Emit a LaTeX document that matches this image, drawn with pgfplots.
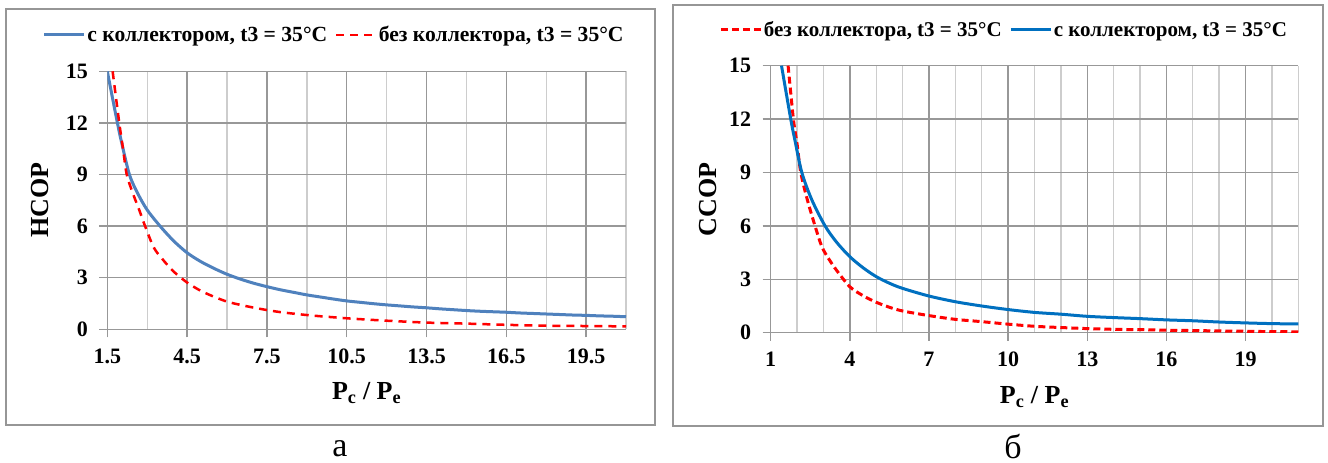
\documentclass[border=0pt]{standalone}
\usepackage{fontspec}
\setmainfont{Liberation Serif}
\usepackage{pgfplots}
\pgfplotsset{compat=1.18}

\definecolor{blueA}{RGB}{79,129,189}
\definecolor{blueB}{RGB}{0,112,192}
\definecolor{redD}{RGB}{255,0,0}
\definecolor{gridmaj}{RGB}{152,152,152}
\definecolor{gridmin}{RGB}{205,205,205}
\definecolor{framec}{RGB}{150,150,150}

\pgfplotsset{
  panel/.style={
    scale only axis, anchor=south west,
    axis lines=left, axis line style={-, draw=gridmaj, line width=1.4pt},
    ymin=0, ymax=15, ytick={0,3,6,9,12,15},
    grid=both,
    major grid style={draw=gridmaj, line width=1.4pt},
    minor grid style={draw=gridmin, line width=1.4pt},
    tick align=outside, major tick length=8pt, minor tick length=0pt,
    tick style={draw=gridmaj, line width=1.4pt},
    /pgf/number format/assume math mode=true,
    tick label style={font=\fontsize{22}{24}\selectfont\bfseries},
    xticklabel style={yshift=-8pt},
    yticklabel style={xshift=-8pt},
    label style={font=\fontsize{26}{28}\selectfont\bfseries},
    legend columns=-1,
    legend style={draw=none, fill=none, anchor=center,
      font=\fontsize{21}{23}\selectfont\bfseries,
      /tikz/every even column/.append style={column sep=6pt},
      nodes={inner sep=1.5pt}},
    legend image code/.code={\draw[##1] (0pt,0pt) -- (40pt,0pt);},
  }
}

\begin{document}
\begin{tikzpicture}
\path[use as bounding box] (0,0) rectangle (1328pt,463pt);
\fill[white] (0,0) rectangle (1328pt,463pt);

% chart frames
\draw[framec, line width=1.6pt] (6pt,38pt) rectangle (655pt,454pt);
\draw[framec, line width=1.6pt] (673pt,37pt) rectangle (1323pt,458pt);

% (а) heating COP
\begin{axis}[panel,
  at={(107.3pt,133.7pt)}, width=518.7pt, height=258pt,
  xmin=1.5, xmax=21,
  xtick={1.5,4.5,7.5,10.5,13.5,16.5,19.5},
  xticklabels={1.5,4.5,7.5,10.5,13.5,16.5,19.5},
  minor xtick={3,6,9,12,15,18,21},
  ylabel={HCOP},
  xlabel={P\textsubscript{c} / P\textsubscript{e}},
  ylabel style={at={(axis description cs:-0.130,0.5)}, anchor=center},
  xlabel style={at={(axis description cs:0.5,-0.247)}, anchor=center},
  legend style={at={(axis description cs:0.437,1.141)},
    font=\fontsize{21.6}{23}\selectfont\bfseries},
]
\addplot[blueA, line width=3pt, smooth] coordinates {
 (1.5,15.0) (1.88,12.0) (2.04,10.85) (2.33,9.0) (2.64,7.91) (3.0,6.94)
 (3.5,5.97) (4.0,5.13) (4.5,4.45) (5.0,3.95) (5.5,3.55) (6.0,3.2)
 (6.5,2.92) (7.0,2.68) (7.5,2.48) (8.0,2.30) (8.5,2.15) (9.0,2.0)
 (9.5,1.88) (10.0,1.76) (10.5,1.65) (11.0,1.57) (11.5,1.49) (12.0,1.42)
 (12.5,1.36) (13.0,1.30) (13.5,1.25) (14.0,1.19) (14.5,1.14) (15.0,1.09)
 (15.5,1.05) (16.0,1.02) (16.5,0.99) (17.0,0.95) (17.5,0.92) (18.0,0.89)
 (18.5,0.86) (19.0,0.83) (19.5,0.81) (20.0,0.78) (20.5,0.76) (21.0,0.73)
};
\addlegendentry{с коллектором, t3 = 35°C}
\addplot[redD, line width=2.5pt, dash pattern=on 8pt off 6pt, smooth] coordinates {
 (1.7,15.0) (1.95,12.0) (2.1,10.4) (2.23,9.0) (2.45,7.95) (2.70,6.94)
 (2.92,6.0) (3.25,4.75) (3.6,4.03) (4.0,3.35) (4.5,2.72) (5.0,2.25)
 (5.5,1.9) (6.0,1.61) (6.5,1.42) (7.0,1.26) (7.5,1.12) (8.0,1.0)
 (8.5,0.91) (9.0,0.83) (9.5,0.76) (10.0,0.70) (10.5,0.64) (11.0,0.59)
 (12.0,0.50) (13.5,0.39) (15.0,0.33) (16.5,0.26) (18.0,0.21)
 (19.5,0.19) (21.0,0.17)
};
\addlegendentry{без коллектора, t3 = 35°C}
\end{axis}

% (б) cooling COP
\begin{axis}[panel,
  at={(770.7pt,130.3pt)}, width=527.6pt, height=267pt,
  xmin=1, xmax=21,
  xtick={1,4,7,10,13,16,19},
  minor xtick={2,3,5,6,8,9,11,12,14,15,17,18,20,21},
  ylabel={CCOP},
  xlabel={P\textsubscript{c} / P\textsubscript{e}},
  ylabel style={at={(axis description cs:-0.119,0.5)}, anchor=center},
  xlabel style={at={(axis description cs:0.5,-0.241)}, anchor=center},
  legend style={at={(axis description cs:0.442,1.134)}},
]
\addplot[redD, line width=3pt, dash pattern=on 7pt off 4pt, smooth] coordinates {
 (1.66,15.0) (1.86,12.0) (2.0,10.6) (2.14,9.0) (2.39,7.46) (2.68,6.0)
 (2.94,4.83) (3.2,4.15) (3.5,3.5) (4.0,2.58) (4.5,2.08) (5.0,1.71)
 (5.5,1.43) (6.0,1.22) (7.0,0.96) (8.0,0.75) (9.0,0.62) (10.0,0.48)
 (11.0,0.36) (12.0,0.29) (13.0,0.23) (14.0,0.19) (15.0,0.17) (16.0,0.14)
 (17.0,0.12) (18.0,0.10) (19.0,0.08) (20.0,0.06) (21.0,0.05)
};
\addlegendentry{без коллектора, t3 = 35°C}
\addplot[blueB, line width=3pt, smooth] coordinates {
 (1.41,15.0) (1.76,12.0) (1.92,10.8) (2.18,9.0) (2.56,7.46) (3.06,6.0)
 (3.5,5.08) (4.0,4.27) (4.5,3.65) (5.0,3.15) (5.5,2.78) (6.0,2.49)
 (7.0,2.06) (8.0,1.74) (9.0,1.50) (10.0,1.30) (11.0,1.14) (12.0,1.04)
 (13.0,0.92) (14.0,0.85) (15.0,0.79) (16.0,0.72) (17.0,0.67)
 (18.0,0.60) (19.0,0.55) (20.0,0.51) (21.0,0.49)
};
\addlegendentry{с коллектором, t3 = 35°C}
\end{axis}

% panel letters
\node[inner sep=0pt, font=\fontsize{34}{36}\selectfont] at (340pt,14pt) {а};
\node[inner sep=0pt, font=\fontsize{34}{36}\selectfont] at (1013pt,17pt) {б};
\end{tikzpicture}
\end{document}
